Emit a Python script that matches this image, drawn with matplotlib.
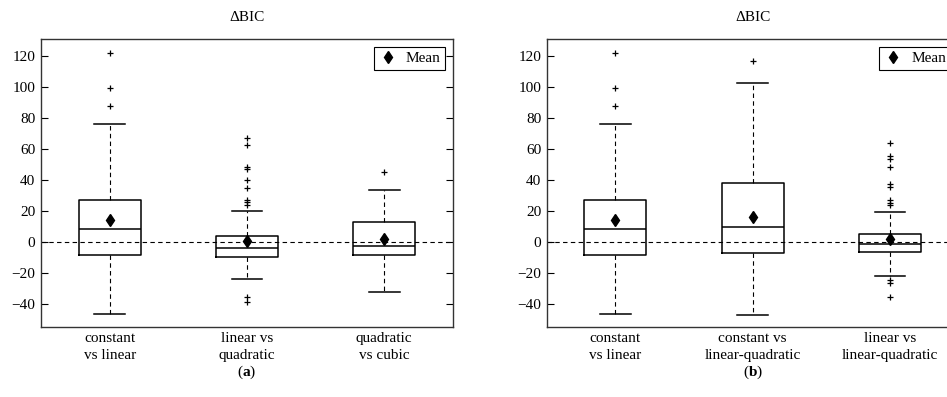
import numpy as np
import matplotlib
matplotlib.use("Agg")
import matplotlib.pyplot as plt

plt.rcParams['font.family'] = ['Liberation Serif', 'DejaVu Serif']
plt.rcParams['mathtext.fontset'] = 'custom'
plt.rcParams['mathtext.rm'] = 'Liberation Serif'
plt.rcParams['mathtext.bf'] = 'Liberation Serif:bold'

# box statistics, panel (a)
labels_a = ["constant\nvs linear", "linear vs\nquadratic", "quadratic\nvs cubic"]
q1_a = [-8.5, -10, -8.5]
med_a = [8.5, -4, -3]
q3_a = [27, 3.5, 12.8]
whislo_a = [-46.5, -24, -32.5]
whishi_a = [76, 19.8, 33.5]
mean_a = [14, 0.3, 1.8]
fliers_a = [[122, 99.5, 88],
            [67, 62.5, 48.5, 47, 40, 35, 27, 25.5, 24, -35.5, -39],
            [45.5]]

# panel (b)
labels_b = ["constant\nvs linear", "constant vs\nlinear-quadratic", "linear vs\nlinear-quadratic"]
q1_b = [-8.5, -7.5, -6.5]
med_b = [8.5, 9.5, -1.3]
q3_b = [27, 38, 5]
whislo_b = [-46.5, -47.5, -22]
whishi_b = [76, 103, 19]
mean_b = [14, 16, 2]
fliers_b = [[122, 99.5, 88],
            [117],
            [64, 55.5, 53.5, 48.5, 37.5, 35.5, 27, 25, 23.5, -24.5, -27, -36]]

yticks = [-40, -20, 0, 20, 40, 60, 80, 100, 120]


def draw_panel(ax, labels, q1, med, q3, lo, hi, mean, fliers):
    stats = []
    for i in range(len(labels)):
        stats.append(dict(q1=q1[i], med=med[i], q3=q3[i], whislo=lo[i],
                          whishi=hi[i], fliers=fliers[i], label=labels[i]))
    pos = np.arange(1, len(labels) + 1)
    ax.axhline(0, color='black', lw=0.8, ls=(0, (4, 3)), zorder=1)
    ax.bxp(stats, positions=pos, widths=0.45, showfliers=True,
           boxprops=dict(color='black', lw=1.1),
           medianprops=dict(color='black', lw=1.1),
           whiskerprops=dict(color='black', lw=0.8, ls=(0, (4, 3))),
           capprops=dict(color='black', lw=1.1),
           flierprops=dict(marker='+', markersize=4.5, markeredgecolor='black',
                           markeredgewidth=0.9))
    ax.plot(pos, mean, 'd', color='black', markersize=6, ls='none',
            label='Mean', zorder=5)
    ax.set_xlim(0.5, 3.5)
    ax.set_ylim(-55, 131)
    ax.set_yticks(yticks)
    ax.tick_params(axis='y', direction='in', length=5, left=True, right=True,
                   labelsize=11, pad=4)
    ax.tick_params(axis='x', length=0, labelsize=11, pad=4)
    for t in ax.get_xticklabels():
        t.set_linespacing(1.4)
    ax.set_title('\u0394BIC', fontsize=11, pad=13)
    for s in ax.spines.values():
        s.set_color('#333333')
        s.set_linewidth(1.0)
    leg = ax.legend(loc='upper right', fancybox=False, edgecolor='black',
                    framealpha=1, fontsize=11, handletextpad=0.6,
                    borderaxespad=0.5, handlelength=1.2, borderpad=0.3)
    leg.get_frame().set_linewidth(0.8)


fig = plt.figure(figsize=(9.47, 3.97), dpi=100)
ax_a = fig.add_axes([0.0433, 0.177, 0.435, 0.7236])
ax_b = fig.add_axes([0.5773, 0.177, 0.435, 0.7236])

draw_panel(ax_a, labels_a, q1_a, med_a, q3_a, whislo_a, whishi_a, mean_a, fliers_a)
draw_panel(ax_b, labels_b, q1_b, med_b, q3_b, whislo_b, whishi_b, mean_b, fliers_b)

fig.text(0.2608, 0.063, r'($\mathbf{a}$)', ha='center', va='center', fontsize=11)
fig.text(0.7948, 0.063, r'($\mathbf{b}$)', ha='center', va='center', fontsize=11)

fig.savefig('out.png', dpi=100)
